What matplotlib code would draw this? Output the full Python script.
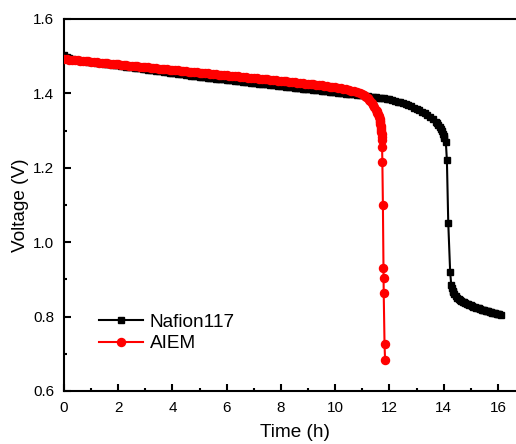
import matplotlib
matplotlib.use("Agg")
import matplotlib.pyplot as plt
from matplotlib.ticker import MultipleLocator

plt.rcParams['font.family'] = ['Liberation Sans', 'DejaVu Sans']

# Discharge curves: time (h) and cell voltage (V)
nafion_time = [
    0.0, 0.1, 0.2, 0.3, 0.4, 0.5, 0.6, 0.7, 0.8, 0.9,
    1.0, 1.1, 1.2, 1.3, 1.4, 1.5, 1.6, 1.7, 1.8, 1.9,
    2.0, 2.1, 2.2, 2.3, 2.4, 2.5, 2.6, 2.7, 2.8, 2.9,
    3.0, 3.1, 3.2, 3.3, 3.4, 3.5, 3.6, 3.7, 3.8, 3.9,
    4.0, 4.1, 4.2, 4.3, 4.4, 4.5, 4.6, 4.7, 4.8, 4.9,
    5.0, 5.1, 5.2, 5.3, 5.4, 5.5, 5.6, 5.7, 5.8, 5.9,
    6.0, 6.1, 6.2, 6.3, 6.4, 6.5, 6.6, 6.7, 6.8, 6.9,
    7.0, 7.1, 7.2, 7.3, 7.4, 7.5, 7.6, 7.7, 7.8, 7.9,
    8.0, 8.1, 8.2, 8.3, 8.4, 8.5, 8.6, 8.7, 8.8, 8.9,
    9.0, 9.1, 9.2, 9.3, 9.4, 9.5, 9.6, 9.7, 9.8, 9.9,
    10.0, 10.1, 10.2, 10.3, 10.4, 10.5, 10.6, 10.7, 10.8, 10.9,
    11.0, 11.1, 11.2, 11.3, 11.4, 11.5, 11.6, 11.7, 11.8, 11.9,
    12.0, 12.1, 12.2, 12.3, 12.4, 12.5, 12.6, 12.7, 12.8, 12.9,
    13.0, 13.1, 13.2, 13.3, 13.4, 13.5, 13.6, 13.7, 13.75, 13.8,
    13.85, 13.9, 13.94, 13.97, 14.0, 14.02, 14.08, 14.12, 14.17, 14.24,
    14.28, 14.30, 14.33, 14.36, 14.40, 14.45, 14.50, 14.55, 14.60, 14.65,
    14.70, 14.75, 14.80, 14.85, 14.90, 14.95, 15.00, 15.05, 15.10, 15.15,
    15.20, 15.25, 15.30, 15.35, 15.40, 15.45, 15.50, 15.55, 15.60, 15.65,
    15.70, 15.75, 15.80, 15.85, 15.90, 15.95, 16.00, 16.05, 16.10,
]
nafion_voltage = [
    1.5020, 1.4970, 1.4940, 1.4920, 1.4900, 1.4890, 1.4880, 1.4870, 1.4860, 1.4855,
    1.4850, 1.4840, 1.4830, 1.4820, 1.4810, 1.4800, 1.4790, 1.4780, 1.4770, 1.4760,
    1.4750, 1.4740, 1.4730, 1.4720, 1.4710, 1.4700, 1.4690, 1.4680, 1.4670, 1.4660,
    1.4650, 1.4640, 1.4630, 1.4620, 1.4610, 1.4600, 1.4590, 1.4580, 1.4570, 1.4560,
    1.4550, 1.4540, 1.4530, 1.4520, 1.4510, 1.4500, 1.4490, 1.4480, 1.4470, 1.4460,
    1.4450, 1.4442, 1.4433, 1.4425, 1.4416, 1.4408, 1.4400, 1.4391, 1.4383, 1.4374,
    1.4366, 1.4358, 1.4349, 1.4341, 1.4332, 1.4324, 1.4316, 1.4307, 1.4299, 1.4290,
    1.4282, 1.4274, 1.4265, 1.4257, 1.4248, 1.4240, 1.4232, 1.4223, 1.4215, 1.4206,
    1.4198, 1.4190, 1.4181, 1.4173, 1.4164, 1.4156, 1.4148, 1.4139, 1.4131, 1.4122,
    1.4114, 1.4106, 1.4097, 1.4089, 1.4080, 1.4072, 1.4064, 1.4055, 1.4047, 1.4038,
    1.4030, 1.4022, 1.4013, 1.4005, 1.3996, 1.3988, 1.3980, 1.3971, 1.3962, 1.3953,
    1.3944, 1.3935, 1.3926, 1.3916, 1.3906, 1.3896, 1.3886, 1.3875, 1.3864, 1.3852,
    1.3840, 1.3821, 1.3800, 1.3780, 1.3760, 1.3735, 1.3710, 1.3680, 1.3650, 1.3620,
    1.3590, 1.3550, 1.3510, 1.3465, 1.3420, 1.3370, 1.3310, 1.3240, 1.3200, 1.3160,
    1.3110, 1.3050, 1.2990, 1.2920, 1.2850, 1.2790, 1.2700, 1.2200, 1.0520, 0.9200,
    0.8850, 0.8770, 0.8700, 0.8650, 0.8600, 0.8550, 0.8510, 0.8480, 0.8450, 0.8425,
    0.8400, 0.8380, 0.8360, 0.8345, 0.8330, 0.8315, 0.8300, 0.8285, 0.8270, 0.8255,
    0.8240, 0.8230, 0.8220, 0.8205, 0.8190, 0.8180, 0.8170, 0.8160, 0.8150, 0.8140,
    0.8130, 0.8120, 0.8110, 0.8100, 0.8090, 0.8080, 0.8070, 0.8060, 0.8050,
]

aiem_time = [
    0.0, 0.1, 0.2, 0.3, 0.4, 0.5, 0.6, 0.7, 0.8, 0.9,
    1.0, 1.1, 1.2, 1.3, 1.4, 1.5, 1.6, 1.7, 1.8, 1.9,
    2.0, 2.1, 2.2, 2.3, 2.4, 2.5, 2.6, 2.7, 2.8, 2.9,
    3.0, 3.1, 3.2, 3.3, 3.4, 3.5, 3.6, 3.7, 3.8, 3.9,
    4.0, 4.1, 4.2, 4.3, 4.4, 4.5, 4.6, 4.7, 4.8, 4.9,
    5.0, 5.1, 5.2, 5.3, 5.4, 5.5, 5.6, 5.7, 5.8, 5.9,
    6.0, 6.1, 6.2, 6.3, 6.4, 6.5, 6.6, 6.7, 6.8, 6.9,
    7.0, 7.1, 7.2, 7.3, 7.4, 7.5, 7.6, 7.7, 7.8, 7.9,
    8.0, 8.1, 8.2, 8.3, 8.4, 8.5, 8.6, 8.7, 8.8, 8.9,
    9.0, 9.1, 9.2, 9.3, 9.4, 9.5, 9.6, 9.7, 9.8, 9.9,
    10.0, 10.1, 10.2, 10.3, 10.4, 10.5, 10.6, 10.7, 10.8, 10.9,
    11.0, 11.05, 11.1, 11.15, 11.2, 11.25, 11.3, 11.35, 11.4, 11.45,
    11.5, 11.53, 11.56, 11.58, 11.6, 11.62, 11.64, 11.65, 11.66, 11.67,
    11.68, 11.69, 11.70, 11.705, 11.71, 11.715, 11.72, 11.73, 11.74, 11.76,
    11.78, 11.785, 11.79, 11.82, 11.84,
]
aiem_voltage = [
    1.4925, 1.4917, 1.4910, 1.4903, 1.4895, 1.4888, 1.4881, 1.4873, 1.4866, 1.4859,
    1.4852, 1.4844, 1.4837, 1.4830, 1.4822, 1.4815, 1.4808, 1.4800, 1.4793, 1.4786,
    1.4778, 1.4771, 1.4764, 1.4756, 1.4749, 1.4742, 1.4734, 1.4727, 1.4720, 1.4712,
    1.4705, 1.4698, 1.4690, 1.4683, 1.4676, 1.4668, 1.4661, 1.4654, 1.4646, 1.4639,
    1.4632, 1.4624, 1.4617, 1.4610, 1.4602, 1.4595, 1.4588, 1.4580, 1.4573, 1.4566,
    1.4558, 1.4551, 1.4544, 1.4536, 1.4529, 1.4522, 1.4514, 1.4507, 1.4500, 1.4492,
    1.4485, 1.4478, 1.4470, 1.4463, 1.4456, 1.4448, 1.4441, 1.4434, 1.4426, 1.4419,
    1.4412, 1.4404, 1.4397, 1.4390, 1.4382, 1.4375, 1.4368, 1.4360, 1.4353, 1.4345,
    1.4338, 1.4330, 1.4322, 1.4314, 1.4306, 1.4298, 1.4290, 1.4282, 1.4274, 1.4266,
    1.4258, 1.4249, 1.4240, 1.4231, 1.4222, 1.4213, 1.4203, 1.4193, 1.4183, 1.4172,
    1.4160, 1.4148, 1.4135, 1.4121, 1.4106, 1.4090, 1.4073, 1.4055, 1.4035, 1.4013,
    1.3990, 1.3965, 1.3935, 1.3905, 1.3870, 1.3830, 1.3785, 1.3735, 1.3680, 1.3625,
    1.3565, 1.3525, 1.3480, 1.3445, 1.3405, 1.3360, 1.3305, 1.3270, 1.3230, 1.3185,
    1.3135, 1.3080, 1.3020, 1.2960, 1.2900, 1.2830, 1.2750, 1.2560, 1.2160, 1.1000,
    0.9310, 0.9040, 0.8630, 0.7260, 0.6830,
]

fig = plt.figure(figsize=(5.16, 4.44), dpi=100)
ax = fig.add_axes([64 / 516, 53 / 444, 461 / 516, 372 / 444])

ax.plot(nafion_time, nafion_voltage, color='black', lw=1.5, marker='s',
        markersize=5, label='Nafion117', zorder=2)
ax.plot(aiem_time, aiem_voltage, color='#ff0000', lw=1.5, marker='o',
        markersize=5.8, label='AIEM', zorder=3)

ax.set_xlim(0, 17)
ax.set_ylim(0.6, 1.6)
ax.xaxis.set_major_locator(MultipleLocator(2))
ax.xaxis.set_minor_locator(MultipleLocator(1))
ax.yaxis.set_major_locator(MultipleLocator(0.2))
ax.yaxis.set_minor_locator(MultipleLocator(0.1))
ax.xaxis.set_major_formatter(plt.FuncFormatter(lambda v, p: f"{v:.0f}"))
ax.yaxis.set_major_formatter(plt.FuncFormatter(lambda v, p: f"{v:.1f}"))

for s in ax.spines.values():
    s.set_linewidth(1.5)
ax.tick_params(which='both', direction='in', width=1.5, labelsize=11,
               top=False, right=False)
ax.tick_params(which='major', length=5, pad=7)
ax.tick_params(which='minor', length=2.5)

ax.set_xlabel('Time (h)', fontsize=13.7, labelpad=7)
ax.set_ylabel('Voltage (V)', fontsize=13.7, labelpad=3)

ax.legend(loc='upper left', bbox_to_anchor=(0.076, 0.208), frameon=False,
          fontsize=13.7, borderpad=0, borderaxespad=0, handlelength=2.3,
          handletextpad=0.37, labelspacing=0.22)

fig.savefig('out.png', dpi=100, facecolor='white')
